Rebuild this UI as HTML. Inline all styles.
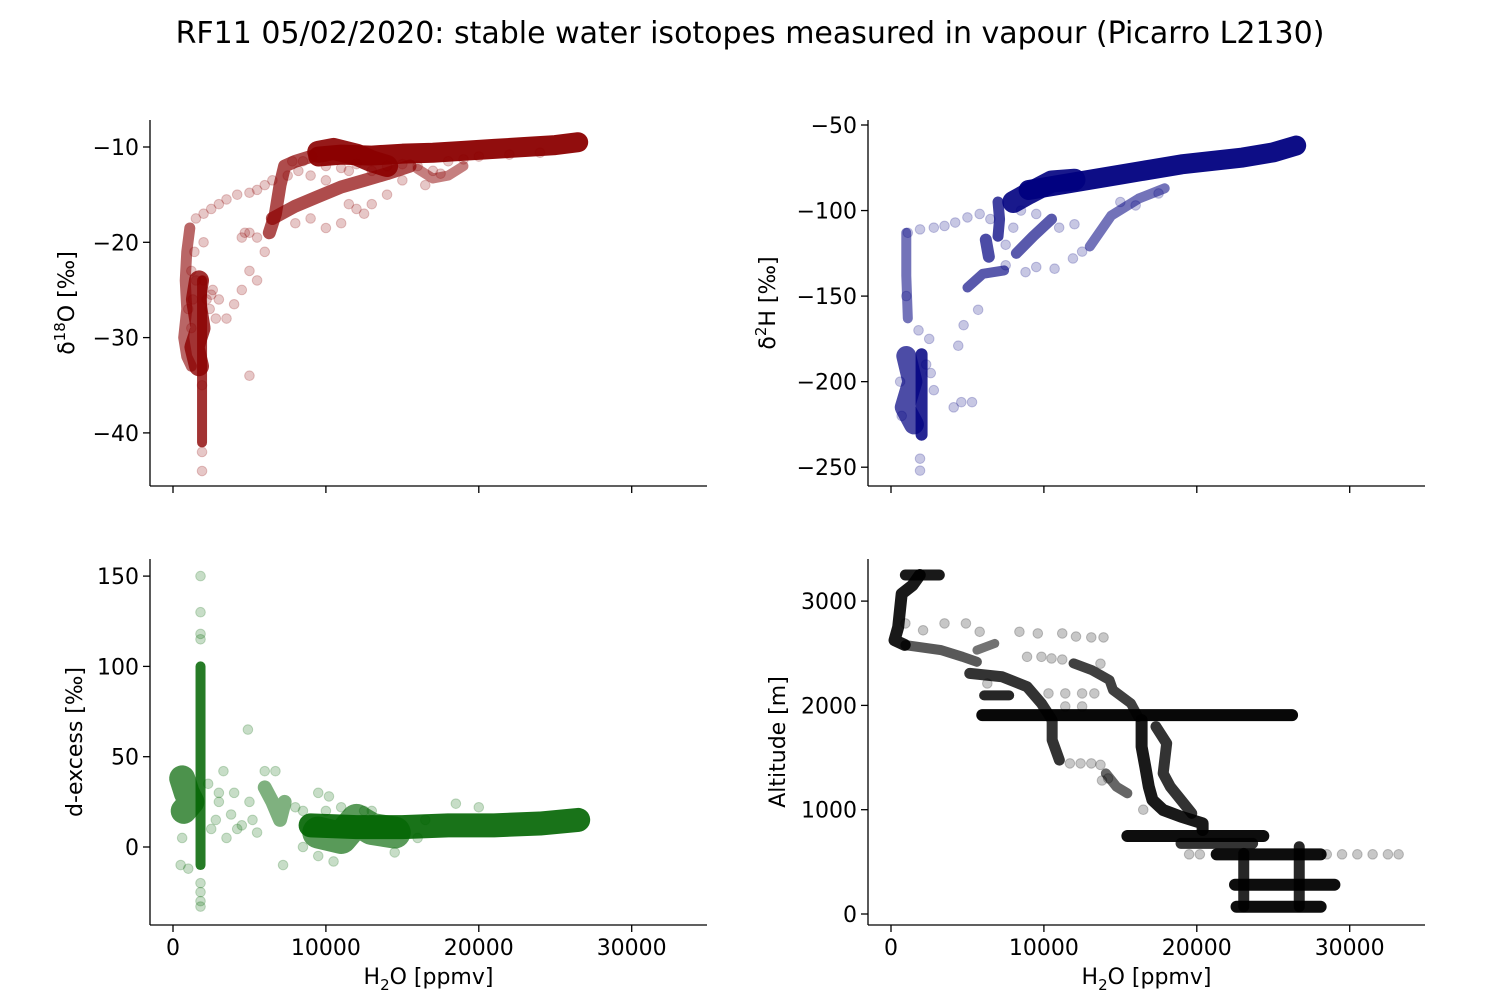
<!DOCTYPE html>
<html><head><meta charset="utf-8">
<style>
body{margin:0;background:#fff;width:1500px;height:1000px;overflow:hidden;font-family:"DejaVu Sans",sans-serif}
svg text{font-family:"DejaVu Sans","Liberation Sans",sans-serif;fill:#000}
</style></head><body>
<svg id="fig" width="1500" height="1000" viewBox="0 0 1500 1000">
<rect width="1500" height="1000" fill="#fff"/>
<text x="750" y="43" font-size="30" text-anchor="middle">RF11 05/02/2020: stable water isotopes measured in vapour (Picarro L2130)</text>
</svg>
<script>
// ---- data (x = H2O ppmv) ----
const xTicks=[0,10000,20000,30000];
const xTickLabels=["0","10000","20000","30000"];
const o18Ticks=[-10,-20,-30,-40];
const h2Ticks=[-50,-100,-150,-200,-250];
const dTicks=[150,100,50,0];
const altTicks=[3000,2000,1000,0];

const o18Tracks=[
 [[9500,-11],[11000,-10.8],[13000,-10.9],[15000,-10.7],[17000,-10.6],[19000,-10.4],[21000,-10.2],[23000,-10],[25000,-9.8],[26500,-9.5]],
 [[9500,-10.5],[10500,-10.2],[12000,-10.8],[13000,-11.5],[14000,-12]],
 [[6500,-17.5],[8000,-16.2],[9500,-15.2],[11000,-14.2],[12500,-13.5],[14000,-12.8],[15500,-12]],
 [[6300,-19],[6700,-17],[7000,-14],[7300,-12],[8000,-11.5],[9000,-11]],
 [[1900,-24],[1900,-32],[1900,-38],[1900,-41]],
 [[1700,-24],[1500,-26],[1800,-29],[1400,-31],[1700,-33]],
 [[1100,-18.5],[900,-21],[800,-24],[900,-27],[700,-30],[900,-32],[1200,-33]],
 [[16000,-12.3],[17000,-13.3],[18000,-13],[19000,-12]]
];
const o18Pts=[[10000,-12],[11000,-12.2],[12000,-11.8],[13000,-12.5],[14000,-12],[15000,-11.8],[16000,-12],[17000,-12.5],[18000,-11.5],[19000,-11.3],[20000,-11],[22000,-10.8],[24000,-10.6],
[7500,-13],[7800,-11.5],[8500,-11.5],[8200,-12.5],[4200,-15],[5000,-14.8],[5500,-14.5],[6000,-14],[6500,-13.5],[3500,-15.5],[3000,-16],[2500,-16.5],[2000,-17],[1500,-17.5],
[8000,-18],[9000,-17.5],[10000,-18.5],[11000,-18],[12000,-16.5],[13000,-16],[14000,-15],[12500,-17],[11500,-16],[5500,-24],[4500,-25],[4000,-26.5],[3500,-28],[5000,-23],[6000,-21],[5000,-34],
[2000,-24],[2000,-20],[1500,-24],[1300,-26],[2200,-26],[2500,-25.5],[3000,-26],[2800,-28],[1200,-29],[1000,-27],[1200,-23],[1400,-21],[1900,-42],[1900,-44],[1900,-35],
[4500,-19.5],[5000,-19],[5500,-19.5],[4700,-19],[15000,-13.5],[16500,-14],[17500,-12.8],[9000,-13],[10000,-13.5],[11500,-12.5],[2600,-25],[2400,-27]];

const h2Tracks=[
 [[9000,-88],[11000,-85],[13000,-82],[15000,-79],[17000,-76],[19000,-73],[21000,-71],[23000,-69],[25000,-66],[26500,-62]],
 [[8000,-95],[9000,-90],[10500,-83],[12000,-82]],
 [[7000,-95],[7100,-105],[7000,-115]],
 [[6200,-117],[6400,-127]],
 [[8200,-125],[9300,-115],[10500,-105]],
 [[13000,-121],[14400,-103],[16200,-93],[17900,-87]],
 [[5000,-145],[6000,-137],[7400,-135]],
 [[1000,-113],[1000,-138],[1100,-163]],
 [[2000,-184],[2000,-205],[2000,-231]],
 [[1000,-185],[1400,-200],[900,-215],[1500,-225]]
];
const h2Pts=[[11900,-128],[10700,-134],[8800,-136],[7500,-132],[9500,-133],[12500,-124],[5700,-158],[4750,-167],[4400,-179],[5300,-212],[4600,-212],[4100,-215],
[1100,-113],[1900,-111],[2800,-110],[3500,-109],[4200,-107],[5000,-104],[5800,-102],[1000,-150],[2300,-190],[2600,-195],[2800,-205],[600,-200],[700,-220],[1900,-245],[1900,-252],[1800,-170],[2500,-175],
[15000,-95],[16000,-97],[17500,-90],[8500,-100],[9500,-102],[11000,-110],[12000,-108],[6500,-105],[7500,-120],[8000,-110]];

const dTracks=[
 [[9000,12],[12000,11],[15000,11],[18000,12],[21000,12],[24000,13],[26500,15]],
 [[9500,8],[11000,5],[12000,15],[13000,10],[14500,8]],
 [[1800,-10],[1800,40],[1800,80],[1800,100]],
 [[600,38],[900,30],[1200,25],[700,20]],
 [[6000,33],[6500,25],[7000,15],[7300,25]]
];
const dPts=[[1800,150],[1800,130],[1800,118],[1800,115],[1800,-20],[1800,-25],[1800,-30],[1800,-33],[500,-10],[4900,65],[2300,35],[3000,30],[3300,42],[2500,10],[3000,25],[3800,18],[4500,12],[5000,25],[5500,8],[6000,42],[6700,42],[7200,-10],[8000,22],[8500,20],[9500,30],[10200,28],[8500,0],[9500,-5],[10500,-8],[14500,-3],[16500,15],[18500,24],[20000,22],[12500,20],[10000,20],[1000,-12],[600,5],[3500,5],[4000,30],[2800,15],[4200,10],[5200,15],[11000,22],[13000,20],[16000,5]];

const altTracks=[
 [[940,3250],[3160,3250]],
 [[1880,3250],[1400,3150],[700,3070],[470,2750],[230,2625],[900,2580]],
 [[940,2578],[3280,2530],[4680,2466],[5620,2418]],
 [[5620,2530],[6790,2594]],
 [[5150,2307],[7260,2275],[8900,2179],[9840,2019],[10540,1859],[10540,1668],[11010,1476]],
 [[14050,1348],[14750,1220],[15460,1157]],
 [[5970,1907],[26230,1907]],
 [[6090,2096],[7730,2096]],
 [[11940,2403],[13120,2339],[14290,2243],[14520,2147],[15690,2019],[16160,1891]],
 [[16390,1859],[16390,1604],[16630,1412],[16860,1220],[17100,1093],[17800,997],[18970,933],[20380,869],[20380,805]],
 [[17330,1796],[18030,1636],[17800,1348],[18270,1220],[18970,1093],[19670,965]],
 [[15460,748],[24350,748]],
 [[18970,677],[23650,677]],
 [[21300,572],[28100,572]],
 [[23070,581],[23070,70]],
 [[22500,281],[29000,281]],
 [[22600,70],[28100,70]],
 [[26700,645],[26700,70]]
];
const altPts=[[28500,572],[29500,572],[30500,572],[31500,572],[32500,572],[33200,572],[19500,572],[20200,572],[940,2786],[2100,2720],[3500,2786],[4900,2786],[5800,2706],[8400,2706],[9600,2690],[11200,2690],[12100,2660],[13100,2652],[13900,2652],
[8900,2466],[9840,2466],[10500,2450],[11200,2440],[13700,2400],[10300,2115],[11400,2115],[12500,2115],[13300,2115],[6300,2210],[11400,1990],[12500,1990],[11700,1444],[12400,1444],[13100,1444],[13700,1430],[13800,1280],[14200,1300],[16500,1000]];

// ---- layout ----
const svg=document.getElementById('fig');
const NS='http://www.w3.org/2000/svg';
function mk(tag,attrs,parent){const e=document.createElementNS(NS,tag);for(const k in attrs)e.setAttribute(k,attrs[k]);(parent||svg).appendChild(e);return e;}

function panel(cfg){
 const g=mk('g',{});
 
 
 const X=v=>cfg.x0+v*0.01529;
 const Y=v=>cfg.yA+(v-cfg.vA)*cfg.ys;
 cfg.tracks.forEach((t,i)=>{
  const p=mk('polyline',{points:t.map(d=>X(d[0])+','+Y(d[1])).join(' '),fill:'none',stroke:cfg.color,'stroke-width':cfg.tw[i]||10,'stroke-linecap':'round','stroke-linejoin':'round','stroke-opacity':cfg.ta[i]||0.7},g);
  
  
 });
 cfg.pts.forEach(d=>{
  const c=mk('circle',{cx:X(d[0]),cy:Y(d[1]),r:4.8,fill:cfg.color,'fill-opacity':0.22,stroke:cfg.color,'stroke-opacity':0.22},g);
  
  
 });
 const l=mk('line',{x1:cfg.L,y1:cfg.T,x2:cfg.L,y2:cfg.B,stroke:'#000','stroke-width':1.3},g);
 
 
 const b=mk('line',{x1:cfg.L,y1:cfg.B,x2:cfg.R,y2:cfg.B,stroke:'#000','stroke-width':1.3},g);
 
 
 xTicks.forEach((v,i)=>{
  mk('line',{x1:X(v),y1:cfg.B,x2:X(v),y2:cfg.B+7,stroke:'#000','stroke-width':1.3},g);
  if(cfg.xlabels){
   const t=mk('text',{x:X(v),y:cfg.B+30,'font-size':22,'text-anchor':'middle'},g);
   t.textContent=xTickLabels[i];
   
   
  }
 });
 cfg.yticks.forEach(v=>{
  mk('line',{x1:cfg.L-7,y1:Y(v),x2:cfg.L,y2:Y(v),stroke:'#000','stroke-width':1.3},g);
  const t=mk('text',{x:cfg.L-11,y:Y(v)+8,'font-size':22,'text-anchor':'end'},g);
  t.textContent=(v<0?'\u2212'+(-v):String(v));
  
  
 });
 const yl=mk('text',{x:0,y:0,'font-size':22,'text-anchor':'middle',transform:'translate('+cfg.ylx+','+((cfg.T+cfg.B)/2)+') rotate(-90)'},g);
 yl.innerHTML=cfg.ylabel;
 
 
 if(cfg.xlabels){
  const xl=mk('text',{x:(cfg.L+cfg.R)/2,y:cfg.B+59,'font-size':22,'text-anchor':'middle'},g);
  xl.innerHTML='H<tspan font-size="15" dy="6">2</tspan><tspan dy="-6">O [ppmv]</tspan>';
  
  
 }
}
panel({name:'d18o-panel',color:'#8b0000',x0:173,L:150,R:707,T:120,B:486,yA:147,vA:-10,ys:-9.53,yticks:o18Ticks,tracks:o18Tracks,pts:o18Pts,tw:[20,22,13,13,10,20,11,10],ta:[0.95,0.9,0.7,0.7,0.8,0.8,0.6,0.5],ylx:74,xlabels:false,
 ylabel:'δ<tspan font-size="15" dy="-9">18</tspan><tspan dy="9">O [‰]</tspan>'});
panel({name:'d2h-panel',color:'#000080',x0:891,L:868,R:1425,T:120,B:486,yA:125,vA:-50,ys:-1.711,yticks:h2Ticks,tracks:h2Tracks,pts:h2Pts,tw:[20,22,11,12,11,10,10,10,12,20],ta:[0.95,0.9,0.75,0.7,0.65,0.55,0.65,0.55,0.85,0.7],ylx:775,xlabels:false,
 ylabel:'δ<tspan font-size="15" dy="-9">2</tspan><tspan dy="9">H [‰]</tspan>'});
panel({name:'dexcess-panel',color:'#006400',x0:173,L:150,R:707,T:559,B:925,yA:847,vA:0,ys:-1.806,yticks:dTicks,tracks:dTracks,pts:dPts,tw:[24,32,10,26,14],ta:[0.9,0.65,0.85,0.7,0.5],ylx:82,xlabels:true,
 ylabel:'d-excess [‰]'});
panel({name:'altitude-panel',color:'#000000',x0:891,L:868,R:1425,T:559,B:925,yA:914,vA:0,ys:-0.1043,yticks:altTicks,tracks:altTracks,pts:altPts,tw:[11,12,10,9,11,10,12,10,10,12,11,12,11,12,11,12,12,11],ta:[0.9,0.9,0.65,0.55,0.8,0.6,0.97,0.85,0.75,0.9,0.8,0.95,0.8,0.95,0.85,0.95,0.95,0.85],ylx:785,xlabels:true,
 ylabel:'Altitude [m]'});
</script>
</body></html>
